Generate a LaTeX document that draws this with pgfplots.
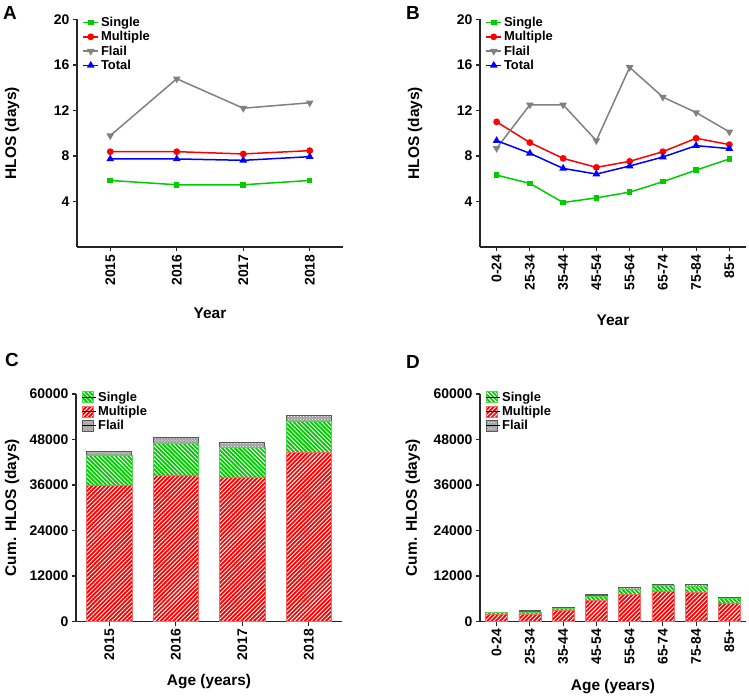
\documentclass[border=0pt]{standalone}
\usepackage{fontspec}
\setmainfont{Liberation Sans}
\usepackage{pgfplots}
\pgfplotsset{compat=1.18}
\usetikzlibrary{patterns,patterns.meta}

\definecolor{cgreen}{RGB}{0,204,0}
\definecolor{cred}{RGB}{255,0,0}
\definecolor{cblue}{RGB}{0,0,255}
\definecolor{cgray}{RGB}{128,128,128}

\tikzset{
 ssty/.style={fill=cgreen, draw=cgreen!70!white, line width=0.5bp,
   postaction={pattern={Lines[angle=-45,distance=3bp,line width=0.9bp]}, pattern color=white}},
 msty/.style={fill=cred, draw=cred!60!white, line width=0.5bp,
   postaction={pattern={Lines[angle=45,distance=3bp,line width=0.9bp]}, pattern color=white}},
 fsty/.style={fill=gray!75, draw=black!65, line width=0.8bp,
   postaction={pattern=crosshatch dots, pattern color=white}},
}

\pgfplotsset{
 prism/.style={
  scale only axis, width=266bp, height=227.5bp, anchor=south west,
  axis x line*=bottom, axis y line*=left,
  axis line style={-, line width=1.1bp, black!85},
  tick align=outside, major tick length=4bp, tick style={line width=1.1bp, black!85},
  tick label style={font=\fontsize{14}{16}\selectfont\bfseries},
  /pgf/number format/assume math mode=true,
  /pgf/number format/set thousands separator={},
  scaled y ticks=false,
  xticklabel style={rotate=90, anchor=east},
  label style={font=\fontsize{15.5}{18}\selectfont\bfseries},
  ylabel style={anchor=center},
  xlabel style={anchor=center},
  legend style={draw=none, fill=none, font=\fontsize{13}{14}\selectfont\bfseries,
    anchor=north west, inner sep=0pt, row sep=-0.6bp},
  legend cell align=left,
 },
 linelegend/.style={legend image code/.code={\draw[mark repeat=2,mark phase=2,##1] plot coordinates {(0bp,0bp)(7.5bp,0bp)(15bp,0bp)};}},
 sgl/.style={color=cgreen, line width=1.5bp, mark=square*, mark size=2bp, mark options={solid}},
 mul/.style={color=cred, line width=1.5bp, mark=*, mark size=2.6bp, mark options={solid}},
 fla/.style={color=cgray, line width=1.5bp, mark=triangle*, mark size=3bp, mark options={solid, rotate=180}},
 tot/.style={color=cblue, line width=1.5bp, mark=triangle*, mark size=3bp, mark options={solid}},
 sleg/.style={legend image code/.code={\draw[ssty] (0bp,-5.5bp) rectangle (11bp,5.5bp); \path (0bp,0bp) -- (14bp,0bp);}},
 mleg/.style={legend image code/.code={\draw[msty] (0bp,-5.5bp) rectangle (11bp,5.5bp); \path (0bp,0bp) -- (14bp,0bp);}},
 fleg/.style={legend image code/.code={\draw[fsty] (0bp,-5.5bp) rectangle (11bp,5.5bp); \path (0bp,0bp) -- (14bp,0bp);}},
}

\begin{document}
\begin{tikzpicture}
\path[use as bounding box] (0,0) rectangle (749bp,699bp);

% Panel A
\begin{axis}[prism, linelegend, at={(77bp,452bp)},
  xmin=-0.5, xmax=3.5, ymin=0, ymax=20, ytick={4,8,12,16,20},
  xtick={0,1,2,3}, xticklabels={2015,2016,2017,2018},
  xlabel={Year}, ylabel={HLOS (days)},
  xlabel style={at={(axis description cs:0.5,-0.291)}},
  ylabel style={at={(axis description cs:-0.244,0.5)}},
  legend style={at={(axis description cs:0.02,1.02)}}]
\addplot[sgl] coordinates {(0,5.85) (1,5.47) (2,5.47) (3,5.85)};
\addlegendentry{Single}
\addplot[mul] coordinates {(0,8.38) (1,8.38) (2,8.18) (3,8.47)};
\addlegendentry{Multiple}
\addplot[fla] coordinates {(0,9.79) (1,14.79) (2,12.2) (3,12.68)};
\addlegendentry{Flail}
\addplot[tot] coordinates {(0,7.74) (1,7.74) (2,7.62) (3,7.94)};
\addlegendentry{Total}
\end{axis}

% Panel B
\begin{axis}[prism, linelegend, at={(480bp,452bp)},
  xmin=-0.5, xmax=7.5, ymin=0, ymax=20, ytick={4,8,12,16,20},
  xtick={0,...,7}, xticklabels={0-24,25-34,35-44,45-54,55-64,65-74,75-84,85+},
  xlabel={Year}, ylabel={HLOS (days)},
  xlabel style={at={(axis description cs:0.5,-0.322)}},
  ylabel style={at={(axis description cs:-0.244,0.5)}},
  legend style={at={(axis description cs:0.02,1.02)}}]
\addplot[sgl] coordinates {(0,6.32) (1,5.59) (2,3.91) (3,4.32) (4,4.82) (5,5.74) (6,6.76) (7,7.74)};
\addlegendentry{Single}
\addplot[mul] coordinates {(0,11.0) (1,9.18) (2,7.79) (3,7.0) (4,7.53) (5,8.38) (6,9.56) (7,9.0)};
\addlegendentry{Multiple}
\addplot[fla] coordinates {(0,8.68) (1,12.5) (2,12.5) (3,9.35) (4,15.79) (5,13.18) (6,11.82) (7,10.12)};
\addlegendentry{Flail}
\addplot[tot] coordinates {(0,9.35) (1,8.24) (2,6.91) (3,6.41) (4,7.12) (5,7.91) (6,8.91) (7,8.65)};
\addlegendentry{Total}
\end{axis}

% Panel C
\begin{axis}[prism, at={(76bp,77.5bp)}, ybar stacked, bar width=0.68,
  xmin=-0.5, xmax=3.5, ymin=0, ymax=60000, ytick={0,12000,24000,36000,48000,60000},
  xtick={0,1,2,3}, xticklabels={2015,2016,2017,2018},
  xlabel={Age (years)}, ylabel={Cum. HLOS (days)},
  xlabel style={at={(axis description cs:0.5,-0.265)}},
  ylabel style={at={(axis description cs:-0.24,0.5)}},
  legend style={at={(axis description cs:0.02,1.02)}}]
\addlegendimage{sleg}
\addlegendimage{mleg}
\addlegendimage{fleg}
\addplot[msty] coordinates {(0,35840) (1,38650) (2,38130) (3,44540)};
\addplot[ssty] coordinates {(0,8080) (1,8260) (2,7730) (3,8340)};
\addplot[fsty] coordinates {(0,970) (1,1670) (2,1400) (3,1580)};
\legend{Single,Multiple,Flail}
\end{axis}

% Panel D
\begin{axis}[prism, at={(480bp,77.5bp)}, ybar stacked, bar width=0.66,
  xmin=-0.5, xmax=7.5, ymin=0, ymax=60000, ytick={0,12000,24000,36000,48000,60000},
  xtick={0,...,7}, xticklabels={0-24,25-34,35-44,45-54,55-64,65-74,75-84,85+},
  xlabel={Age (years)}, ylabel={Cum. HLOS (days)},
  xlabel style={at={(axis description cs:0.5,-0.287)}},
  ylabel style={at={(axis description cs:-0.252,0.5)}},
  legend style={at={(axis description cs:0.02,1.02)}}]
\addlegendimage{sleg}
\addlegendimage{mleg}
\addlegendimage{fleg}
\addplot[msty] coordinates {(0,1850) (1,2030) (2,3080) (3,5640) (4,7140) (5,7950) (6,7720) (7,4800)};
\addplot[ssty] coordinates {(0,530) (1,530) (2,450) (3,1140) (4,1450) (5,1570) (6,1560) (7,1300)};
\addplot[fsty] coordinates {(0,100) (1,250) (2,170) (3,270) (4,340) (5,350) (6,420) (7,240)};
\legend{Single,Multiple,Flail}
\end{axis}

\node[font=\fontsize{19}{20}\selectfont\bfseries] at (10bp,686bp) {A};
\node[font=\fontsize{19}{20}\selectfont\bfseries] at (413bp,686bp) {B};
\node[font=\fontsize{19}{20}\selectfont\bfseries] at (12bp,339bp) {C};
\node[font=\fontsize{19}{20}\selectfont\bfseries] at (413bp,337bp) {D};
\end{tikzpicture}
\end{document}
